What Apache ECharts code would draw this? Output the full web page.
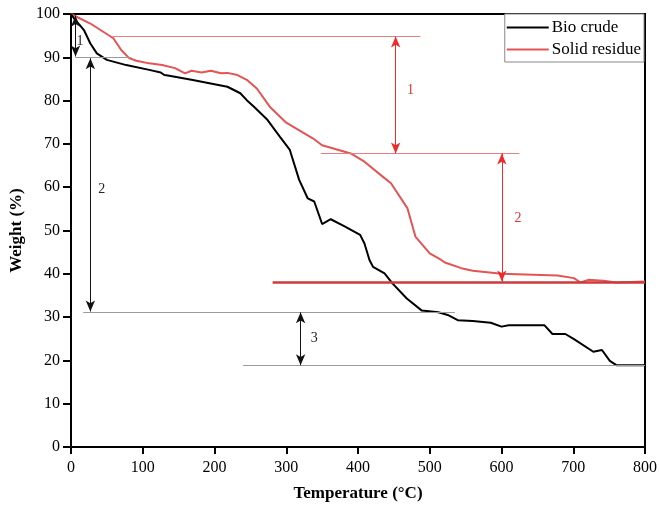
<!DOCTYPE html>
<html>
<head>
<meta charset="utf-8">
<script src="https://cdn.jsdelivr.net/npm/echarts@6/dist/echarts.min.js"></script>
<style>
  html, body { margin: 0; padding: 0; background: #fff; }
  #chart { width: 660px; height: 509px; }
</style>
</head>
<body>
<div id="chart"></div>
<script>
// Bio crude TGA curve (temperature in °C, weight in %)
var bioTemp = [0, 2, 6, 12, 18, 27, 36, 50, 77, 109, 125, 130, 135, 168, 200, 218, 236, 245, 255, 273, 291, 305, 318, 330, 339, 350, 362, 382, 403, 409, 416, 421, 437, 448, 468, 489, 512, 525, 539, 560, 585, 600, 610, 660, 671, 689, 701, 728, 740, 751, 760, 800];
var bioWeight = [100, 99.5, 98.6, 97.5, 96.3, 93.2, 90.9, 89.4, 88.2, 87.1, 86.5, 85.9, 85.8, 84.8, 83.8, 83.2, 81.7, 80.1, 78.6, 75.7, 71.7, 68.6, 61.7, 57.4, 56.7, 51.5, 52.6, 50.9, 49.0, 47.0, 43.2, 41.6, 40.1, 37.8, 34.3, 31.5, 31.1, 30.5, 29.3, 29.1, 28.7, 27.8, 28.1, 28.1, 26.1, 26.1, 24.9, 22.0, 22.4, 19.9, 18.9, 18.9];

// Solid residue TGA curve
var resTemp = [0, 2, 27, 59, 70, 81, 91, 109, 127, 145, 159, 168, 182, 195, 209, 218, 232, 245, 259, 277, 300, 337, 350, 390, 409, 437, 446, 469, 480, 500, 516, 521, 544, 560, 600, 678, 701, 710, 721, 742, 760, 800];
var resWeight = [100, 99.8, 97.8, 94.4, 91.7, 89.8, 89.2, 88.6, 88.2, 87.5, 86.3, 86.9, 86.5, 86.9, 86.3, 86.4, 85.9, 84.8, 82.8, 78.6, 74.9, 71.3, 69.7, 67.8, 65.9, 62.1, 60.9, 55.1, 48.6, 44.7, 43.2, 42.6, 41.3, 40.7, 40.0, 39.6, 39.0, 38.0, 38.6, 38.4, 38.0, 38.2];

var xTicks = [0, 100, 200, 300, 400, 500, 600, 700, 800];
var yTicks = [0, 10, 20, 30, 40, 50, 60, 70, 80, 90, 100];

// annotation guides: [tStart, tEnd, weight]
var grayGuides = [[6, 84, 90], [17, 535, 31.1], [240, 800, 18.9]];
var redGuides = [[58, 487, 94.8], [348, 625, 67.8]];
var residueLevel = [281, 800, 38.0];
// arrows: [temp, wTop, wBottom]
var blackArrows = [[6.3, 99.6, 90.2], [27, 89.8, 31.3], [320, 31.1, 18.9]];
var redArrows = [[452.5, 94.8, 67.8], [600.5, 67.8, 38.2]];
// step labels: [temp, weight, text]
var blackLabels = [[12.5, 93.6, '1'], [43, 59.5, '2'], [339, 25, '3']];
var redLabels = [[473, 82.4, '1'], [623, 52.8, '2']];

var serif = "'Liberation Serif', 'Times New Roman', serif";

function pairs(xs, ys) {
    var out = [];
    for (var i = 0; i < xs.length; i++) out.push([xs[i], ys[i]]);
    return out;
}

function hLines(list, style) {
    return list.map(function (g) {
        return [
            { coord: [g[0], g[2]], symbol: 'none', lineStyle: style },
            { coord: [g[1], g[2]], symbol: 'none' }
        ];
    });
}

function arrows(list, style) {
    return list.map(function (a) {
        return [
            { coord: [a[0], a[1]], symbol: 'arrow', symbolSize: [7, 11], lineStyle: style },
            { coord: [a[0], a[2]], symbol: 'arrow', symbolSize: [7, 11] }
        ];
    });
}

function labels(list, color) {
    return list.map(function (l) {
        return {
            coord: [l[0], l[1]],
            name: l[2],
            label: { color: color }
        };
    });
}

var grayStyle = { color: '#9a9a9a', width: 1, type: 'solid' };
var blackArrowStyle = { color: '#111', width: 1, type: 'solid' };
var redThinStyle = { color: '#e58080', width: 1, type: 'solid' };
var redArrowStyle = { color: '#ee2a2a', width: 1, type: 'solid' };
var redThickStyle = { color: '#cc3b3b', width: 2.5, type: 'solid' };

var option = {
    animation: false,
    grid: {
        left: 60,
        right: 14,
        top: 14,
        bottom: 62,
        show: true,
        borderColor: '#000',
        borderWidth: 2
    },
    legend: {
        data: ['Bio crude', 'Solid residue'],
        orient: 'vertical',
        right: 16,
        top: 14,
        icon: 'rect',
        itemWidth: 42,
        itemHeight: 2,
        itemGap: 5,
        padding: [5, 3, 4, 2],
        borderColor: '#888',
        borderWidth: 1,
        backgroundColor: '#fff',
        textStyle: { fontFamily: serif, fontSize: 17, color: '#000', padding: [0, 0, 0, -2] }
    },
    xAxis: {
        type: 'value',
        min: xTicks[0],
        max: xTicks[xTicks.length - 1],
        interval: 100,
        name: 'Temperature (°C)',
        nameLocation: 'middle',
        nameGap: 38,
        nameTextStyle: { fontFamily: serif, fontSize: 17, fontWeight: 'bold', color: '#000' },
        axisLine: { lineStyle: { color: '#000', width: 2 } },
        axisTick: { inside: false, length: 7, lineStyle: { color: '#000', width: 2 } },
        axisLabel: { fontFamily: serif, fontSize: 16, color: '#000', margin: 13 },
        splitLine: { show: false }
    },
    yAxis: {
        type: 'value',
        min: yTicks[0],
        max: yTicks[yTicks.length - 1],
        interval: 10,
        name: 'Weight (%)',
        nameLocation: 'middle',
        nameGap: 46,
        nameRotate: 90,
        nameTextStyle: { fontFamily: serif, fontSize: 17, fontWeight: 'bold', color: '#000' },
        axisLine: { show: true, lineStyle: { color: '#000', width: 2 } },
        axisTick: { show: true, inside: false, length: 8, lineStyle: { color: '#000', width: 2 } },
        axisLabel: { fontFamily: serif, fontSize: 16, color: '#000', margin: 11 },
        splitLine: { show: false }
    },
    series: [
        {
            name: 'Solid residue',
            type: 'line',
            data: pairs(resTemp, resWeight),
            symbol: 'none',
            smooth: false,
            z: 3,
            lineStyle: { color: '#e35454', width: 2 },
            itemStyle: { color: '#e35454' },
            markLine: {
                silent: true,
                animation: false,
                label: { show: false },
                emphasis: { disabled: true },
                data: hLines(redGuides, redThinStyle)
                    .concat(hLines([residueLevel], redThickStyle))
                    .concat(arrows(redArrows, redArrowStyle))
            },
            markPoint: {
                silent: true,
                symbol: 'circle',
                symbolSize: 1,
                itemStyle: { color: 'rgba(0,0,0,0)' },
                label: { show: true, position: 'inside', formatter: '{b}', fontFamily: serif, fontSize: 14 },
                data: labels(redLabels, '#d33')
            }
        },
        {
            name: 'Bio crude',
            type: 'line',
            data: pairs(bioTemp, bioWeight),
            symbol: 'none',
            smooth: false,
            z: 4,
            lineStyle: { color: '#000', width: 2 },
            itemStyle: { color: '#000' },
            markLine: {
                silent: true,
                animation: false,
                label: { show: false },
                emphasis: { disabled: true },
                data: hLines(grayGuides, grayStyle)
                    .concat(arrows(blackArrows, blackArrowStyle))
            },
            markPoint: {
                silent: true,
                symbol: 'circle',
                symbolSize: 1,
                itemStyle: { color: 'rgba(0,0,0,0)' },
                label: { show: true, position: 'inside', formatter: '{b}', fontFamily: serif, fontSize: 14 },
                data: labels(blackLabels, '#222')
            }
        }
    ]
};

var chart = echarts.init(document.getElementById('chart'));
chart.setOption(option);

window.addEventListener('resize', function () {
    chart.resize();
});
</script>
</body>
</html>
